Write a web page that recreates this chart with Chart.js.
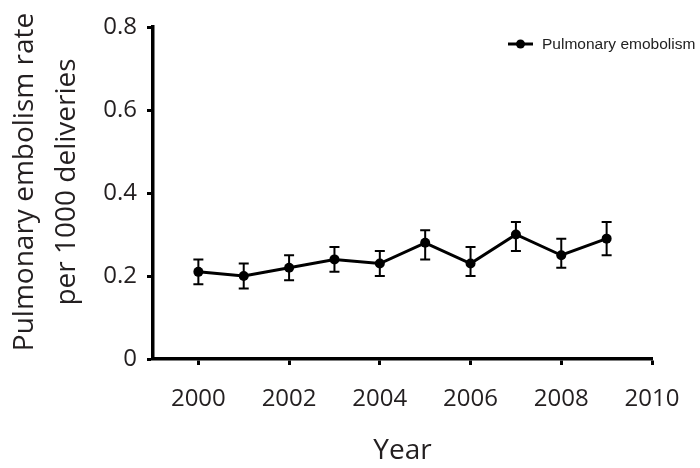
<!DOCTYPE html>
<html>
<head>
<meta charset="utf-8">
<script src="https://cdn.jsdelivr.net/npm/chart.js@4/dist/chart.umd.min.js"></script>
<style>
  html, body { margin: 0; padding: 0; background: #ffffff; }
  #wrap { width: 700px; height: 468px; }
</style>
</head>
<body>
<div id="wrap"><canvas id="c" width="700" height="468"></canvas></div>
<script>
// ---- Data ----
const years = [2000, 2001, 2002, 2003, 2004, 2005, 2006, 2007, 2008, 2009];
const peRate = [0.21, 0.20, 0.22, 0.24, 0.23, 0.28, 0.23, 0.30, 0.25, 0.29];
const peUpper = [0.24, 0.23, 0.25, 0.27, 0.26, 0.31, 0.27, 0.33, 0.29, 0.33];
const peLower = [0.18, 0.17, 0.19, 0.21, 0.20, 0.24, 0.20, 0.26, 0.22, 0.25];
const xTickValues = [2000, 2002, 2004, 2006, 2008, 2010];
const yTickValues = [0, 0.2, 0.4, 0.6, 0.8];
const seriesName = 'Pulmonary emobolism';
const xTitle = 'Year';
const yTitle = ['Pulmonary embolism rate', 'per 1000 deliveries'];

const textColor = '#231f20';

const errorBars = {
  id: 'errorBars',
  afterDatasetsDraw(chart) {
    const ctx = chart.ctx;
    const xs = chart.scales.x, ys = chart.scales.y;
    ctx.save();
    ctx.strokeStyle = '#000';
    ctx.lineWidth = 2;
    const cap = 5;
    years.forEach((yr, i) => {
      const px = xs.getPixelForValue(yr);
      const pTop = ys.getPixelForValue(peUpper[i]);
      const pBot = ys.getPixelForValue(peLower[i]);
      ctx.beginPath();
      ctx.moveTo(px, pTop); ctx.lineTo(px, pBot);
      ctx.moveTo(px - cap, pTop); ctx.lineTo(px + cap, pTop);
      ctx.moveTo(px - cap, pBot); ctx.lineTo(px + cap, pBot);
      ctx.stroke();
    });
    ctx.restore();
  }
};

// y-axis title drawn rotated, offset slightly upward like the reference
const yTitleDraw = {
  id: 'yTitleDraw',
  afterDraw(chart) {
    const ctx = chart.ctx;
    const area = chart.chartArea;
    const cy = (area.top + area.bottom) / 2 - 11;
    ctx.save();
    ctx.fillStyle = textColor;
    ctx.font = '28px "Open Sans", sans-serif';
    ctx.textAlign = 'center';
    ctx.textBaseline = 'alphabetic';
    const baselines = [33, 75];
    yTitle.forEach((line, i) => {
      ctx.save();
      ctx.translate(baselines[i], cy);
      ctx.rotate(-Math.PI / 2);
      ctx.fillText(line, 0, 0);
      ctx.restore();
    });
    ctx.restore();
  }
};

const customLegend = {
  id: 'customLegend',
  afterDraw(chart) {
    const ctx = chart.ctx;
    const y = 44;
    ctx.save();
    ctx.strokeStyle = '#000';
    ctx.lineWidth = 3;
    ctx.beginPath();
    ctx.moveTo(508, y); ctx.lineTo(533, y);
    ctx.stroke();
    ctx.fillStyle = '#000';
    ctx.beginPath();
    ctx.arc(520.5, y, 4.5, 0, Math.PI * 2);
    ctx.fill();
    ctx.fillStyle = '#222';
    ctx.font = '15.5px "Liberation Sans", Arial, sans-serif';
    ctx.textBaseline = 'middle';
    ctx.textAlign = 'left';
    ctx.fillText(seriesName, 542, y + 0.5);
    ctx.restore();
  }
};

new Chart(document.getElementById('c'), {
  type: 'line',
  data: {
    datasets: [{
      label: seriesName,
      data: years.map((yr, i) => ({ x: yr, y: peRate[i] })),
      borderColor: '#000',
      backgroundColor: '#000',
      borderWidth: 3,
      pointRadius: 5,
      pointBackgroundColor: '#000',
      pointBorderColor: '#000',
      pointBorderWidth: 0,
      tension: 0,
      fill: false
    }]
  },
  options: {
    responsive: false,
    animation: false,
    devicePixelRatio: 1,
    layout: { padding: { left: 0, top: 27, right: 48, bottom: 0 } },
    plugins: {
      legend: { display: false },
      tooltip: { enabled: false }
    },
    scales: {
      x: {
        type: 'linear',
        min: 1999,
        max: 2010,
        afterBuildTicks(scale) { scale.ticks = xTickValues.map(v => ({ value: v })); },
        afterFit(scale) { scale.height = 109; },
        border: { display: true, color: '#000', width: 3.5 },
        grid: { display: true, drawOnChartArea: false, drawTicks: true, tickLength: 6, tickWidth: 3, tickColor: '#000' },
        ticks: {
          color: textColor,
          font: { family: '"Open Sans", sans-serif', size: 24 },
          padding: 20,
          maxRotation: 0,
          callback: v => String(v)
        },
        title: {
          display: true,
          text: xTitle,
          color: textColor,
          font: { family: '"Open Sans", sans-serif', size: 28, lineHeight: 1.2 },
          padding: { top: 0, bottom: 0 }
        }
      },
      y: {
        type: 'linear',
        min: 0,
        max: 0.8,
        afterBuildTicks(scale) { scale.ticks = yTickValues.map(v => ({ value: v })); },
        afterFit(scale) { scale.width = 153; },
        border: { display: true, color: '#000', width: 3.5 },
        grid: { display: true, drawOnChartArea: false, drawTicks: true, tickLength: 6, tickWidth: 3, tickColor: '#000' },
        ticks: {
          color: textColor,
          font: { family: '"Open Sans", sans-serif', size: 24 },
          padding: 10,
          callback: v => String(v)
        },
        title: { display: false }
      }
    }
  },
  plugins: [errorBars, yTitleDraw, customLegend]
});
</script>
</body>
</html>
